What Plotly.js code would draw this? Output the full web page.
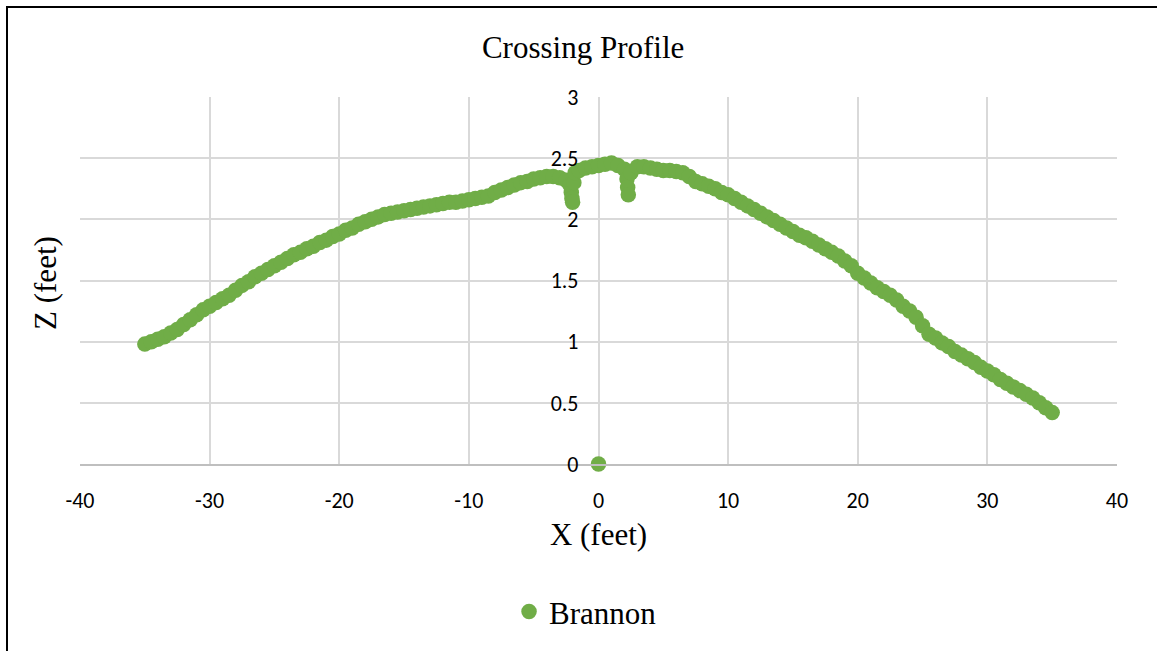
<!DOCTYPE html>
<html>
<head>
<meta charset="utf-8">
<script src="https://cdn.plot.ly/plotly-3.0.1.min.js"></script>
<style>
html,body{margin:0;padding:0;overflow:hidden;background:#fff;width:1157px;height:651px;}
#chart{position:absolute;left:0;top:0;width:1157px;height:651px;}
#ftop{position:absolute;left:6px;top:6px;width:1151px;height:2px;background:#000;}
#fleft{position:absolute;left:6px;top:6px;width:2px;height:645px;background:#000;}
</style>
</head>
<body>
<div id="chart"></div>
<div id="ftop"></div>
<div id="fleft"></div>
<script>
// Brannon crossing profile (X, Z in feet)
const xFeet = [
  -35.0,-34.5,-34.0,-33.5,-33.0,-32.5,-32.0,-31.5,-31.0,-30.5,
  -30.0,-29.5,-29.0,-28.5,-28.0,-27.5,-27.0,-26.5,-26.0,-25.5,
  -25.0,-24.5,-24.0,-23.5,-23.0,-22.5,-22.0,-21.5,-21.0,-20.5,
  -20.0,-19.5,-19.0,-18.5,-18.0,-17.5,-17.0,-16.5,-16.0,-15.5,
  -15.0,-14.5,-14.0,-13.5,-13.0,-12.5,-12.0,-11.5,-11.0,-10.5,
  -10.0,-9.5,-9.0,-8.5,-8.0,-7.5,-7.0,-6.5,-6.0,-5.5,
  -5.0,-4.5,-4.0,-3.5,-3.0,-2.5,-2.2,-2.1,-2.05,-2.0,
  -1.9,-1.8,-1.5,-1.0,-0.5,0.0,0.5,1.0,1.5,2.0,
  2.2,2.25,2.3,2.5,3.0,3.5,4.0,4.5,5.0,5.5,
  6.0,6.5,7.0,7.5,8.0,8.5,9.0,9.5,10.0,10.5,
  11.0,11.5,12.0,12.5,13.0,13.5,14.0,14.5,15.0,15.5,
  16.0,16.5,17.0,17.5,18.0,18.5,19.0,19.5,20.0,20.5,
  21.0,21.5,22.0,22.5,23.0,23.5,24.0,24.5,25.0,25.5,
  26.0,26.5,27.0,27.5,28.0,28.5,29.0,29.5,30.0,30.5,
  31.0,31.5,32.0,32.5,33.0,33.5,34.0,34.5,35.0,
  0.0
];
const zFeet = [
  0.98,1.00,1.02,1.04,1.07,1.10,1.14,1.18,1.22,1.26,
  1.29,1.32,1.35,1.38,1.42,1.46,1.49,1.53,1.56,1.59,
  1.62,1.65,1.68,1.71,1.73,1.76,1.78,1.81,1.83,1.86,
  1.88,1.91,1.93,1.96,1.98,2.00,2.02,2.04,2.05,2.06,
  2.07,2.08,2.09,2.10,2.11,2.12,2.13,2.14,2.14,2.15,
  2.16,2.17,2.18,2.19,2.22,2.24,2.26,2.28,2.30,2.31,
  2.33,2.34,2.35,2.35,2.34,2.32,2.28,2.22,2.17,2.14,
  2.30,2.38,2.40,2.42,2.43,2.44,2.45,2.46,2.44,2.41,
  2.33,2.26,2.20,2.38,2.43,2.43,2.42,2.41,2.40,2.40,
  2.39,2.38,2.35,2.31,2.29,2.27,2.25,2.22,2.20,2.17,
  2.14,2.11,2.08,2.05,2.02,1.99,1.96,1.93,1.90,1.87,
  1.85,1.82,1.79,1.76,1.73,1.70,1.66,1.62,1.56,1.52,
  1.48,1.44,1.41,1.38,1.34,1.29,1.25,1.20,1.13,1.06,
  1.03,0.99,0.96,0.92,0.89,0.86,0.83,0.79,0.76,0.73,
  0.69,0.66,0.63,0.60,0.57,0.54,0.50,0.46,0.42,
  0.00
];
const xTicks = [-40,-30,-20,-10,0,10,20,30,40];
const yTicks = [0,0.5,1,1.5,2,2.5,3];
const yTickText = ['0','0.5','1','1.5','2','2.5','3'];
const seriesName = 'Brannon';

const serif = 'Liberation Serif, Times New Roman, serif';
const sans = 'Carlito, Lato, Calibri, sans-serif';

const trace = {
  type: 'scatter', mode: 'markers', name: seriesName,
  x: xFeet, y: zFeet, cliponaxis: false,
  marker: {color: '#70AD47', size: 15.5, line: {width: 0}}
};

const layout = {
  width: 1157, height: 651,
  margin: {l: 80, r: 40, t: 97, b: 187},
  paper_bgcolor: 'rgba(0,0,0,0)', plot_bgcolor: '#fff',
  showlegend: true,
  title: {text: 'Crossing Profile', font: {family: serif, size: 31, color: '#000'},
          xref: 'container', x: 0.504, xanchor: 'center', yref: 'container', y: 0.928, yanchor: 'middle'},
  xaxis: {
    range: [-40, 40], tickvals: xTicks, ticktext: xTicks.map(String),
    showgrid: true, gridcolor: '#d9d9d9', gridwidth: 2, zeroline: false,
    showline: true, linecolor: '#bfbfbf', linewidth: 2, mirror: false,
    ticks: '', ticklabelstandoff: 16,
    tickfont: {family: sans, size: 22, color: '#000'},
    title: {text: 'X (feet)', font: {family: serif, size: 31, color: '#000'}, standoff: 10},
    automargin: false, fixedrange: true
  },
  yaxis: {
    range: [0, 3], tickvals: yTicks, ticktext: yTickText,
    showgrid: true, gridcolor: '#d9d9d9', gridwidth: 2, zeroline: false,
    showline: false, anchor: 'free', position: 0.5, side: 'left',
    ticks: '', ticklabelstandoff: 20,
    tickfont: {family: sans, size: 22, color: '#000'},
    automargin: false, fixedrange: true
  },
  legend: {orientation: 'h', x: 0.4875, xanchor: 'center', y: -0.403, yanchor: 'middle',
           font: {family: serif, size: 31, color: '#000'}, itemwidth: 30, bgcolor: 'rgba(0,0,0,0)'},
  annotations: [{
    text: 'Z (feet)', textangle: -90, showarrow: false,
    xref: 'paper', yref: 'paper', x: (45-80)/1036, y: (464-283)/367,
    xanchor: 'center', yanchor: 'middle',
    font: {family: serif, size: 31, color: '#000'}
  }]
};

Plotly.newPlot('chart', [trace], layout, {staticPlot: true, displayModeBar: false});
</script>
</body>
</html>
